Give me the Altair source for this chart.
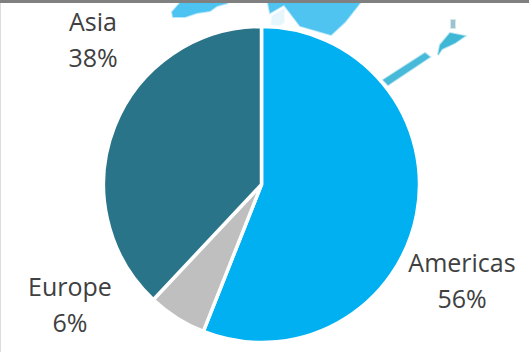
import altair as alt
import pandas as pd

WIDTH, HEIGHT = 529, 352

# Regional shares
regions = ["Americas", "Europe", "Asia"]
shares = [56, 6, 38]
slice_colors = ["#00B0F0", "#BFBFBF", "#2A7489"]
label_x = [462, 70, 93]
label_y = [264, 288, 23]

# Backdrop map outlines, in page pixels
land_names = ["west"] * 8 + ["east"] * 7 + ["spit"] * 5 + ["north"] * 6 + ["south"] * 4 + ["cape"] * 4
land_x = [180, 172, 173, 185, 197, 210, 217, 228,
          268, 270, 284, 300, 331, 345, 360,
          272, 284, 284, 277, 271,
          440, 450, 465, 455, 442, 438,
          383, 425, 430, 388,
          451, 455, 455, 451]
land_y = [3, 12, 17, 17, 13, 11, 6, 3,
          3, 13, 5, 26, 35, 22, 3,
          16, 9, 22, 28, 28,
          45, 33, 36, 43, 49, 55,
          80, 53, 57, 85,
          20, 20, 28, 28]
land_ids = ["west", "east", "spit", "north", "south", "cape"]
land_colors = ["#4CC3F0", "#4FC4F1", "#E6F6FC", "#3FB8D6", "#46BAD8", "#9CC4CE"]

slices = pd.DataFrame({"region": regions, "share": shares, "rank": [0, 1, 2]})
labels = pd.DataFrame({
    "text": [f"{r}\n{s}%" for r, s in zip(regions, shares)],
    "x": label_x,
    "y": label_y,
})
land = pd.DataFrame({"land": land_names, "x": land_x, "y": land_y})
land["step"] = land.groupby("land").cumcount()
band = pd.DataFrame({"x": [0], "x2": [WIDTH], "y": [0], "y2": [3]})

x_scale = alt.Scale(domain=[0, WIDTH], range=[0, WIDTH])
y_scale = alt.Scale(domain=[HEIGHT, 0], range=[HEIGHT, 0])

# One filled polygon per land mass, with a translucent edge to soften it
layers = []
for name, color in zip(land_ids, land_colors):
    sub = land[land["land"] == name]
    layers.append(
        alt.Chart(sub).mark_line(fill=color, stroke=color, strokeWidth=2, strokeOpacity=0.4,
                                 interpolate="linear-closed").encode(
            x=alt.X("x:Q", scale=x_scale, axis=None),
            y=alt.Y("y:Q", scale=y_scale, axis=None),
            order="step:Q",
        )
    )

pie = alt.Chart(slices).mark_arc(
    outerRadius=158, stroke="white", strokeWidth=3.5
).encode(
    theta=alt.Theta("share:Q", stack=True, scale=alt.Scale(domain=[0, 100], range=[0, 6.2831853])),
    order=alt.Order("rank:Q"),
    color=alt.Color("region:N", scale=alt.Scale(domain=regions, range=slice_colors), legend=None),
    x=alt.value(261.5),
    y=alt.value(184.5),
)

text = alt.Chart(labels).mark_text(
    font="Open Sans", fontSize=25, color="#404040", lineBreak="\n", lineHeight=36, align="center", baseline="middle"
).encode(
    x=alt.X("x:Q", scale=x_scale, axis=None),
    y=alt.Y("y:Q", scale=y_scale, axis=None),
    text="text:N",
)

top_band = alt.Chart(band).mark_rect(color="#808080").encode(
    x=alt.X("x:Q", scale=x_scale, axis=None),
    x2="x2:Q",
    y=alt.Y("y:Q", scale=y_scale, axis=None),
    y2="y2:Q",
)

chart = alt.layer(*layers, pie, text, top_band).properties(
    width=WIDTH, height=HEIGHT, padding=0, autosize=alt.AutoSizeParams(type="none")
).configure_view(stroke=None).configure(background="white")

chart.save("out.html", embed_options={"renderer": "svg", "actions": False})
